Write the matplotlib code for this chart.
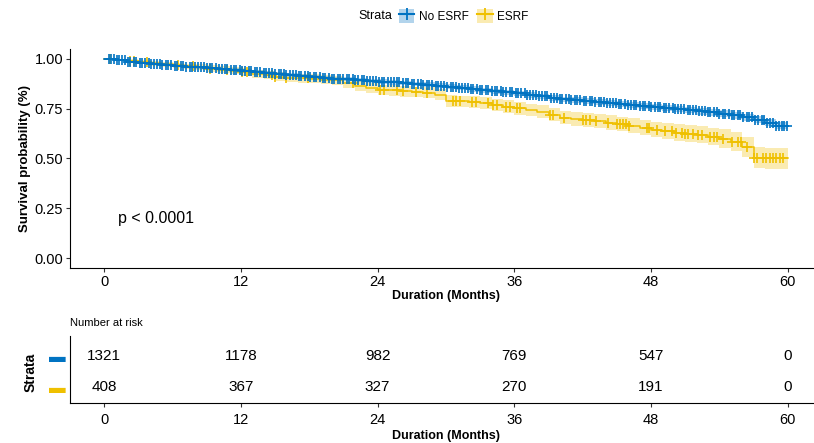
import matplotlib.pyplot as plt
from matplotlib.patches import Patch
from matplotlib.lines import Line2D

plt.rcParams['font.family'] = ['Liberation Sans', 'DejaVu Sans']

BLUE = '#0073C2'
YELLOW = '#EFC000'

# survival curves, one knot per month (0..60)
months = list(range(61))
noesrf_s = [1.0, .993, .987, .981, .975, .970, .966, .962, .958, .953,
            .949, .945, .941, .936, .931, .926, .920, .914, .908, .904,
            .900, .897, .893, .890, .886, .882, .878, .874, .870, .866,
            .861, .855, .849, .843, .838, .833, .828, .820, .812, .804,
            .797, .793, .788, .784, .779, .775, .770, .765, .760, .755,
            .750, .744, .738, .732, .726, .717, .707, .695, .680, .665,
            .662]
noesrf_ci = [0, .003, .004, .005, .005, .006, .006, .007, .007, .007,
             .008, .008, .008, .008, .009, .009, .009, .009, .010, .010,
             .010, .010, .010, .011, .011, .011, .011, .012, .012, .012,
             .012, .012, .013, .013, .013, .013, .013, .014, .014, .014,
             .014, .014, .015, .015, .015, .015, .015, .016, .016, .016,
             .016, .017, .017, .017, .017, .018, .018, .018, .018, .019,
             .019]
esrf_s = [1.0, .995, .990, .984, .978, .973, .968, .963, .958, .952,
          .947, .941, .935, .926, .918, .911, .905, .902, .900, .896,
          .892, .880, .862, .853, .845, .842, .838, .834, .830, .820,
          .790, .787, .783, .777, .770, .761, .752, .744, .735, .720,
          .705, .700, .695, .688, .680, .673, .665, .655, .645, .638,
          .630, .625, .620, .610, .600, .585, .560, .505, .500, .500,
          .500]
esrf_ci = [0, .006, .008, .010, .011, .012, .013, .014, .015, .016,
           .017, .018, .019, .020, .020, .021, .021, .022, .022, .023,
           .023, .024, .025, .025, .026, .026, .027, .027, .028, .028,
           .029, .029, .030, .030, .031, .031, .032, .032, .033, .034,
           .034, .035, .035, .036, .036, .037, .038, .038, .039, .040,
           .041, .042, .043, .044, .046, .048, .050, .053, .055, .055,
           .055]

# censoring times (months)
noesrf_cens = [0.4, 0.6, 0.9, 1.1, 1.3, 1.6, 1.8, 2.1, 2.3, 2.6, 2.8, 3.1, 3.3, 3.6, 3.9, 4.1, 4.4, 4.6, 4.9,
               5.1, 5.4, 5.6, 5.9, 6.2, 6.4, 6.7, 6.9, 7.2, 7.5, 7.7, 8.0, 8.2, 8.5, 8.8, 9.0, 9.3, 9.5, 9.8,
               10.1, 10.3, 10.6, 10.8, 11.1, 11.4, 11.6, 11.9, 12.1, 12.4, 12.7, 12.9, 13.2, 13.4, 13.7, 14.0, 14.2, 14.5, 14.7,
               15.0, 15.3, 15.5, 15.8, 16.0, 16.3, 16.6, 16.8, 17.1, 17.3, 17.6, 17.9, 18.1, 18.4, 18.6, 18.9, 19.2, 19.4, 19.7,
               20.0, 20.2, 20.5, 20.7, 21.0, 21.3, 21.5, 21.8, 22.0, 22.3, 22.6, 22.8, 23.1, 23.3, 23.6, 23.9, 24.1, 24.4, 24.6, 24.9,
               25.2, 25.4, 25.7, 25.9, 26.2, 26.5, 26.7, 27.0, 27.2, 27.5, 27.8, 28.0, 28.3, 28.5, 28.8, 29.1, 29.3, 29.6, 29.8,
               30.1, 30.4, 30.6, 30.9, 31.1, 31.4, 31.7, 31.9, 32.2, 32.4, 32.7, 33.0, 33.2, 33.5, 33.7, 34.0, 34.3, 34.5, 34.8,
               35.0, 35.3, 35.6, 35.8, 36.1, 36.3, 36.6, 36.9, 37.1, 37.4, 37.6, 37.9, 38.2, 38.4, 38.7, 38.9, 39.2, 39.5, 39.7,
               40.0, 40.2, 40.5, 40.8, 41.0, 41.3, 41.5, 41.8, 42.1, 42.3, 42.6, 42.8, 43.1, 43.4, 43.6, 43.9, 44.1, 44.4, 44.7, 44.9,
               45.2, 45.4, 45.7, 46.0, 46.2, 46.5, 46.7, 47.0, 47.3, 47.5, 47.8, 48.0, 48.3, 48.6, 48.8, 49.1, 49.3, 49.6, 49.9,
               50.1, 50.4, 50.6, 50.9, 51.2, 51.4, 51.7, 51.9, 52.2, 52.5, 52.7, 53.0, 53.2, 53.5, 53.8, 54.0, 54.3, 54.5, 54.8,
               55.1, 55.3, 55.6, 55.8, 56.1, 56.4, 56.6, 56.9, 57.1, 57.4, 57.7, 57.9, 58.2, 58.4, 58.7, 59.0, 59.2, 59.5, 59.7, 59.9]
esrf_cens = [0.5, 2.3, 2.6, 3.8, 6.5, 7.8, 9.3, 10.8, 12.1, 12.5, 14.7, 15.0, 16.0,
             17.9, 21.8, 24.2, 24.6, 25.7, 26.2, 27.4, 28.3, 30.6, 30.9, 31.2, 32.3,
             32.6, 33.7, 34.1, 34.5, 35.3, 35.6, 36.2, 36.5, 39.1, 39.4, 40.4, 42.0,
             42.3, 42.6, 43.2, 44.2, 45.0, 45.3, 45.5, 45.8, 46.1, 47.6, 47.8, 48.5,
             49.2, 49.8, 50.2, 50.7, 51.0, 51.2, 51.7, 52.1, 52.5, 53.2, 53.5, 53.8,
             54.3, 55.1, 55.6, 55.9, 56.4, 57.0, 57.3, 57.8, 58.1, 58.4, 58.7, 59.0,
             59.3, 59.6]

risk_times = [0, 12, 24, 36, 48, 60]
risk_noesrf = [1321, 1178, 982, 769, 547, 0]
risk_esrf = [408, 367, 327, 270, 191, 0]


def surv_at(t_list, s_list, t):
    val = s_list[0]
    for tt, ss in zip(t_list, s_list):
        if tt <= t:
            val = ss
    return val


fig = plt.figure(figsize=(8.14, 4.43), dpi=100)
ax = fig.add_axes([70 / 814, 1 - 268 / 443, 752 / 814, 219 / 443])

for s, ci, cens, col in [(esrf_s, esrf_ci, esrf_cens, YELLOW),
                         (noesrf_s, noesrf_ci, noesrf_cens, BLUE)]:
    lo = [a - b for a, b in zip(s, ci)]
    hi = [a + b for a, b in zip(s, ci)]
    ax.fill_between(months, lo, hi, step='post', color=col, alpha=0.3, lw=0)
    ax.step(months, s, where='post', color=col, lw=1.1)
    ax.plot(cens, [surv_at(months, s, c) for c in cens], ls='none', marker='+',
            color=col, ms=6.5, mew=1.2)

ax.set_xlim(-3, 63)
ax.set_ylim(-0.05, 1.05)
ax.set_xticks(risk_times)
ax.set_yticks([0, 0.25, 0.5, 0.75, 1.0])
ax.set_yticklabels(['0.00', '0.25', '0.50', '0.75', '1.00'])
ax.spines[['top', 'right']].set_visible(False)
ax.tick_params(labelsize=10.5, color='#333333', length=3, pad=2)
ax.set_xlabel('Duration (Months)', fontsize=9, fontweight='bold', labelpad=1)
ax.set_ylabel('Survival probability (%)', fontsize=9.5, fontweight='bold')
ax.yaxis.set_label_coords(-0.052, 0.5)
ax.text(1.2, 0.2, 'p < 0.0001', fontsize=11.5, va='center')

# number at risk table
tab = fig.add_axes([70 / 814, 1 - 403 / 443, 752 / 814, 67 / 443])
for x, a, b in zip(risk_times, risk_noesrf, risk_esrf):
    tab.text(x, 2, str(a), ha='center', va='center', fontsize=11)
    tab.text(x, 1, str(b), ha='center', va='center', fontsize=11)
tab.set_xlim(-3, 63)
tab.set_ylim(0.48, 2.65)
tab.set_xticks(risk_times)
tab.set_yticks([2, 1])
tab.set_yticklabels(['▬', '▬'], fontsize=12)
for lbl, col in zip(tab.get_yticklabels(), [BLUE, YELLOW]):
    lbl.set_color(col)
tab.tick_params(axis='y', length=0, pad=3)
tab.tick_params(axis='x', labelsize=10.5, length=3, pad=4.5, color='#333333')
tab.spines[['top', 'right']].set_visible(False)
tab.set_xlabel('Duration (Months)', fontsize=9, fontweight='bold', labelpad=2)
tab.set_ylabel('Strata', fontsize=10, fontweight='bold')
tab.yaxis.set_label_coords(-0.043, 0.45)
tab.set_title('Number at risk', fontsize=8, loc='left', pad=7)

# legend on top
fig.text(392 / 814, 1 - 16 / 443, 'Strata', fontsize=9, ha='right', va='center')
handles = [(Patch(facecolor=BLUE, alpha=0.3), Line2D([], [], color=BLUE, marker='+', ms=8, mew=1.3)),
           (Patch(facecolor=YELLOW, alpha=0.3), Line2D([], [], color=YELLOW, marker='+', ms=8, mew=1.3))]
fig.legend(handles, ['No ESRF', 'ESRF'], ncol=2, frameon=False, fontsize=8.5,
           loc='center left', bbox_to_anchor=(399 / 814, 1 - 16 / 443),
           handlelength=1.3, handleheight=1.4, handletextpad=0.4, columnspacing=0.7,
           borderpad=0, borderaxespad=0)

fig.savefig('out.png', dpi=100)
